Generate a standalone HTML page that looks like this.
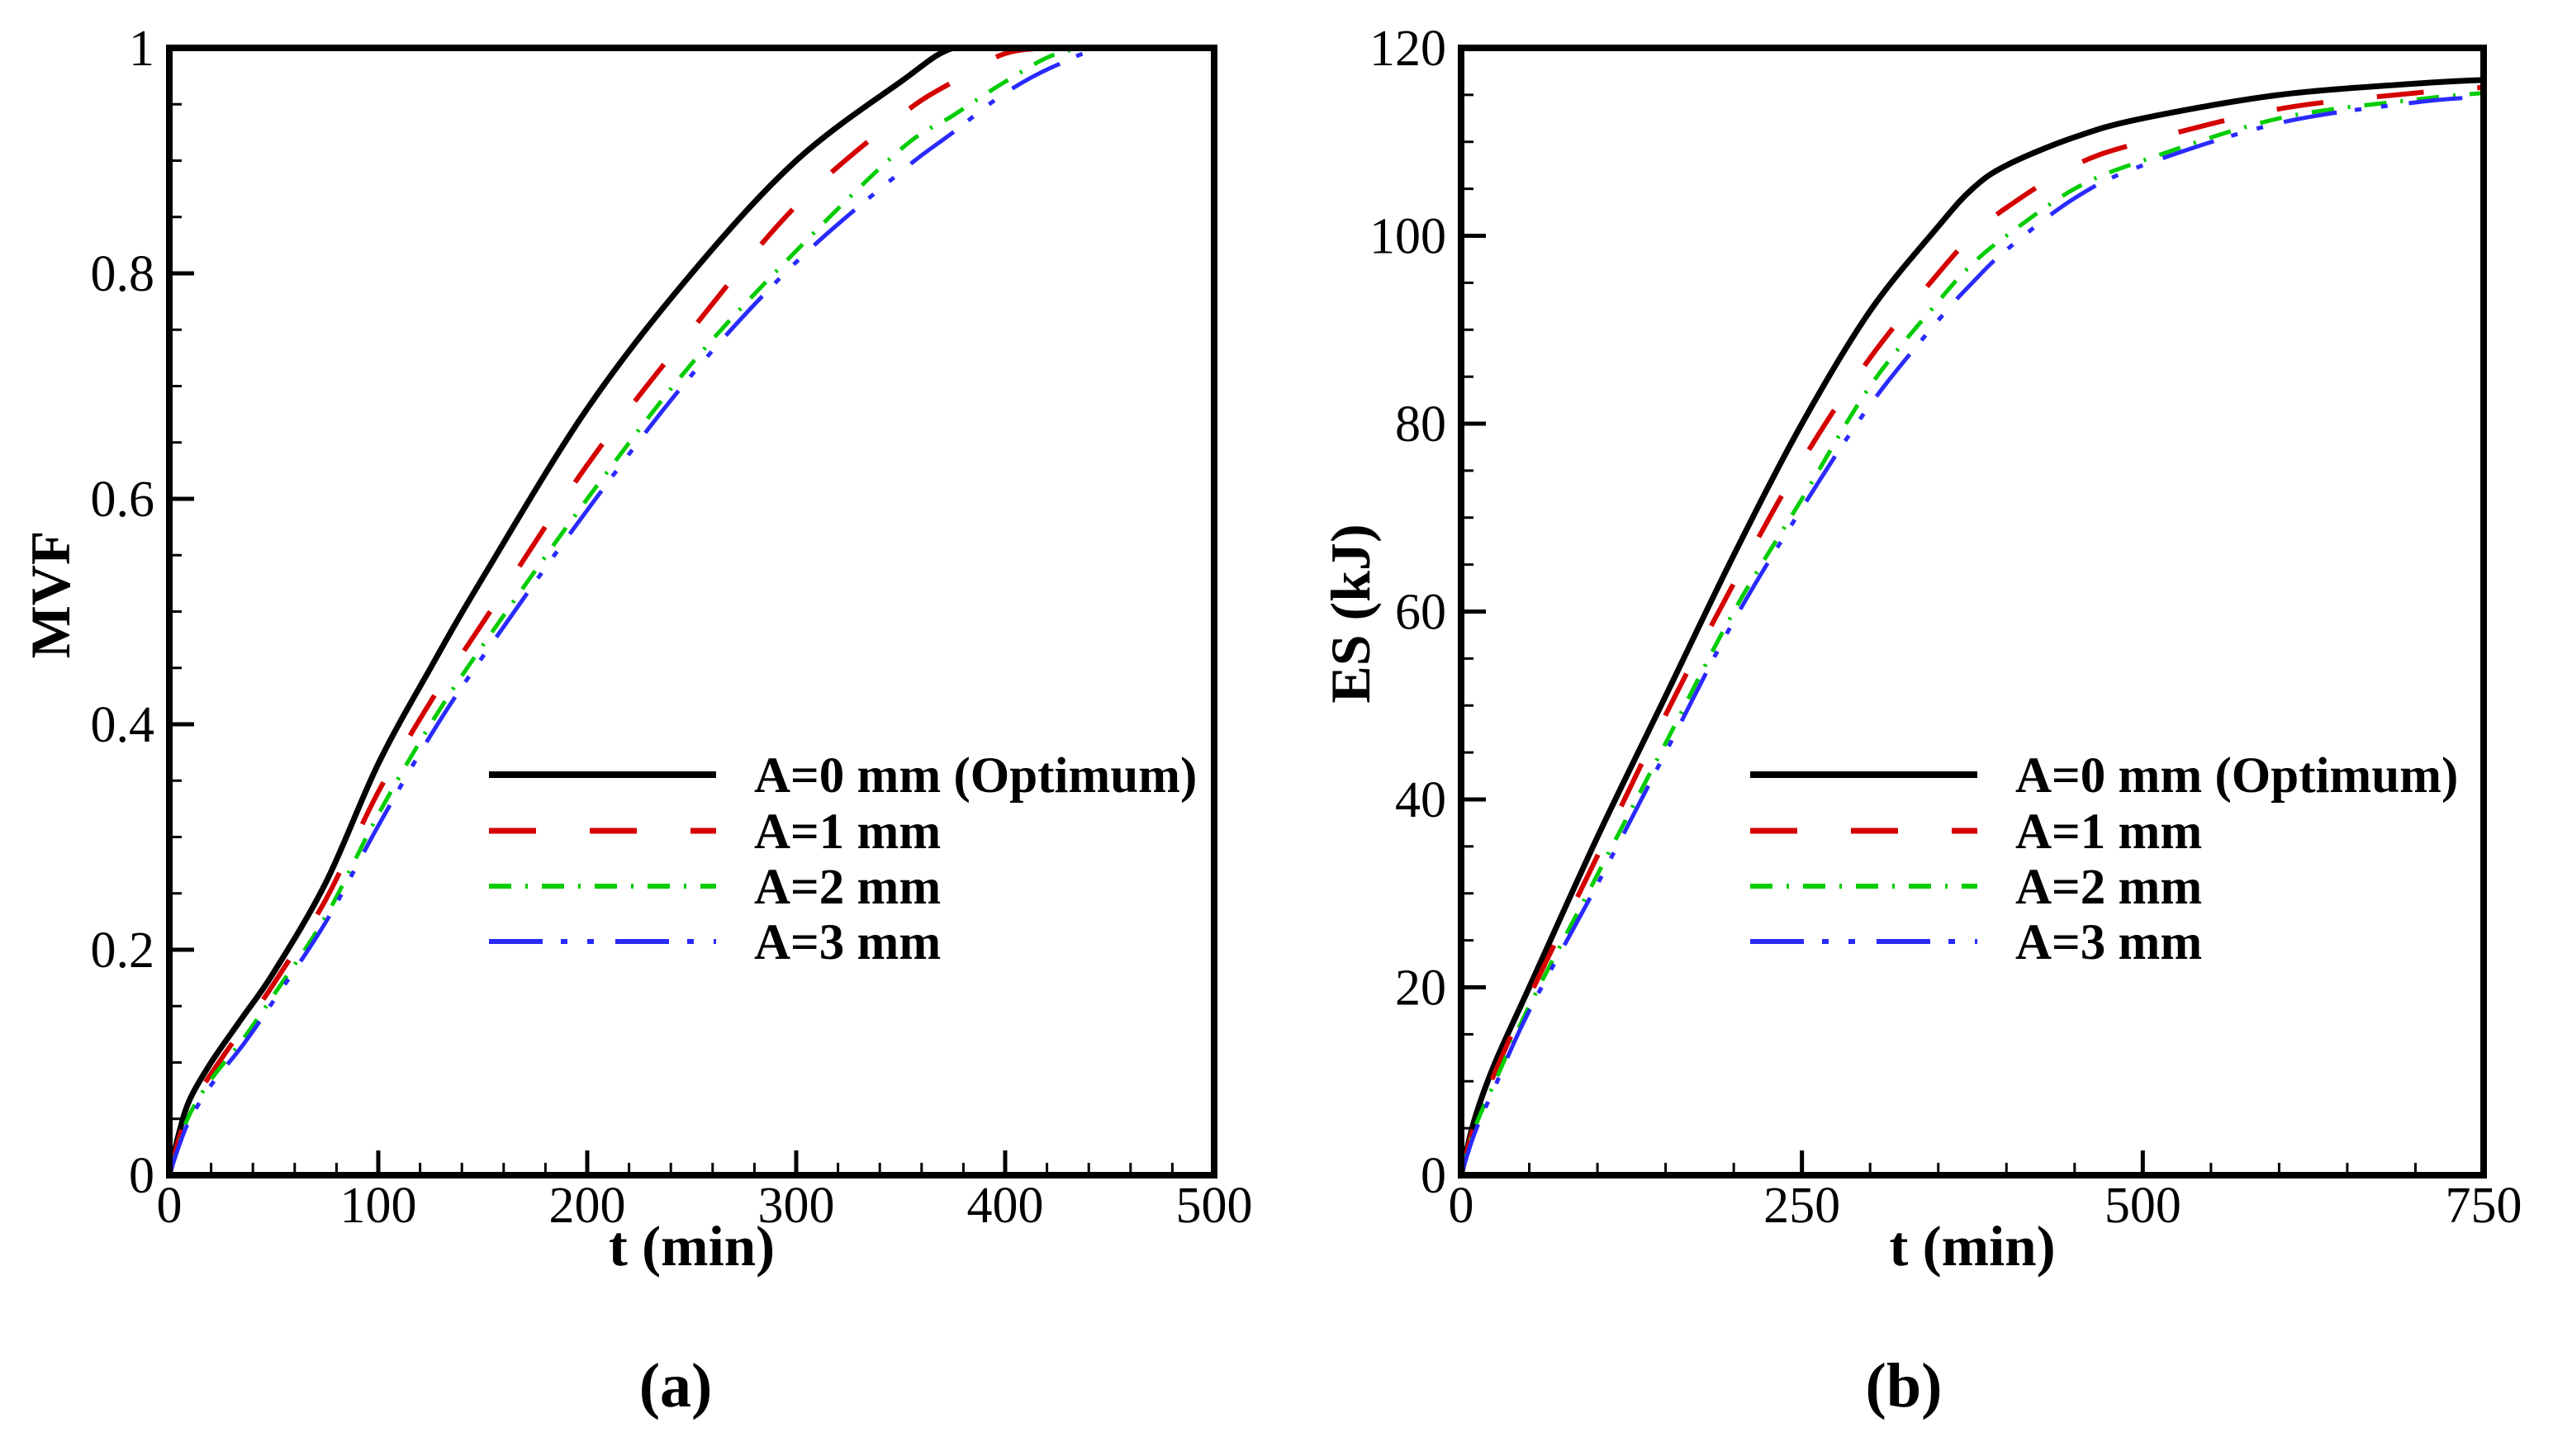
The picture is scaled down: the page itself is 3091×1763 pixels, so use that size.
<!DOCTYPE html>
<html><head><meta charset="utf-8"><style>
html,body{margin:0;padding:0;background:#fff}
svg text{font-family:"Liberation Serif",serif}
</style></head><body>
<svg id="fig" width="3091" height="1758" viewBox="0 0 3091 1758" xmlns="http://www.w3.org/2000/svg"></svg>
<script>
// ---- Data panel (a) MVF ----
const tA = [0,5,10,20,35,50,75,100,125,150,200,250,300,350,375,400,425,450,500];
const mvf0 = [0,0.04,0.068,0.10,0.14,0.18,0.26,0.365,0.45,0.53,0.68,0.80,0.90,0.97,1.0,1.0,1.0,1.0,1.0];
const mvf1 = [0,0.035,0.06,0.09,0.13,0.17,0.245,0.34,0.42,0.49,0.63,0.75,0.86,0.94,0.97,0.995,1.0,1.0,1.0];
const mvf2 = [0,0.03,0.055,0.085,0.12,0.16,0.23,0.32,0.40,0.47,0.60,0.72,0.82,0.91,0.94,0.97,0.995,1.0,1.0];
const mvf3 = [0,0.028,0.05,0.08,0.115,0.155,0.225,0.31,0.39,0.46,0.59,0.71,0.81,0.89,0.925,0.96,0.985,1.0,1.0];
const xTicksA = [0,100,200,300,400,500];
const yTicksA = [0,0.2,0.4,0.6,0.8,1];
const yTickLabelsA = ["0","0.2","0.4","0.6","0.8","1"];
// ---- Data panel (b) ES ----
const tB = [0,10,25,50,100,150,200,250,300,350,375,400,450,500,600,700,750];
const es0 = [0,6,12,20,36,51,66,80,92,101,105,107.5,110.5,112.5,115,116.2,116.6];
const es1 = [0,5.5,11,19,34,49,63,76,87,96,100,103,107.5,110,113.5,115.2,115.8];
const es2 = [0,5,10,18,32,46,60,72,84,93,97,100,105,108,112.5,114.5,115.2];
const es3 = [0,4.5,9.5,17.5,31,45,59,71,82,91,95,98.5,104,107.5,112,114.2,114.8];
const xTicksB = [0,250,500,750];
const yTicksB = [0,20,40,60,80,100,120];
const legendLabels = ["A=0 mm (Optimum)","A=1 mm","A=2 mm","A=3 mm"];

const NS="http://www.w3.org/2000/svg";
const svg=document.getElementById('fig');
function mk(tag,attrs,parent){const e=document.createElementNS(NS,tag);for(const k in attrs)e.setAttribute(k,attrs[k]);(parent||svg).appendChild(e);return e;}
const styles=[
 {c:"#000",w:7,d:""},
 {c:"#d40000",w:6,d:"57 65"},
 {c:"#00cc00",w:5,d:"27 17 3 17"},
 {c:"#2a2aff",w:5,d:"65 22 8 24 8 26"}
];
function smoothPath(pts){
  let d="M"+pts[0][0].toFixed(1)+","+pts[0][1].toFixed(1);
  for(let i=0;i<pts.length-1;i++){
    const p0=pts[Math.max(0,i-1)],p1=pts[i],p2=pts[i+1],p3=pts[Math.min(pts.length-1,i+2)];
    const c1=[p1[0]+(p2[0]-p0[0])/6,p1[1]+(p2[1]-p0[1])/6];
    const c2=[p2[0]-(p3[0]-p1[0])/6,p2[1]-(p3[1]-p1[1])/6];
    d+=" C"+c1[0].toFixed(1)+","+c1[1].toFixed(1)+" "+c2[0].toFixed(1)+","+c2[1].toFixed(1)+" "+p2[0].toFixed(1)+","+p2[1].toFixed(1);
  }
  return d;
}
function panel(o){
  const g=mk('g',{});
  
  
  const L=o.L,R=o.R,T=o.T,B=o.B;
  const sx=v=>L+(v-o.xmin)/(o.xmax-o.xmin)*(R-L);
  const sy=v=>B-(v-o.ymin)/(o.ymax-o.ymin)*(B-T);
  const clip=mk('clipPath',{id:'clip'+o.name},g);
  mk('rect',{x:L,y:T-4,width:R-L,height:B-T+4},clip);
  for(let v=o.xmin;v<=o.xmax+1e-9;v+=o.xminor){
    const x=sx(v);const major=o.xt.some(t=>Math.abs(t-v)<1e-9);
    const len=major?30:15;
    const tk=mk('line',{x1:x,y1:B,x2:x,y2:B-len,stroke:"#000","stroke-width":major?5:3},g);
    
    
  }
  for(let v=o.ymin;v<=o.ymax+1e-9;v+=o.yminor){
    const y=sy(v);const major=o.yt.some(t=>Math.abs(t-v)<1e-9);
    const len=major?30:15;
    const tk=mk('line',{x1:L,y1:y,x2:L+len,y2:y,stroke:"#000","stroke-width":major?5:3},g);
    
    
  }
  o.series.forEach((ys,i)=>{
    const pts=o.xs.map((t,j)=>[sx(t),sy(ys[j])]);
    const p=mk('path',{d:smoothPath(pts),fill:"none",stroke:styles[i].c,"stroke-width":styles[i].w,"stroke-dasharray":styles[i].d,"clip-path":"url(#clip"+o.name+")"},g);
    
    
  });
  const fr=mk('rect',{x:L,y:T,width:R-L,height:B-T,fill:"none",stroke:"#000","stroke-width":8},g);
  
  
  o.xt.forEach(v=>{
    const t=mk('text',{x:sx(v),y:B+57,"font-size":62,"text-anchor":"middle"},g);t.textContent=String(v);
    
    
  });
  o.yt.forEach((v,i)=>{
    const t=mk('text',{x:L-18,y:sy(v)+21,"font-size":62,"text-anchor":"end"},g);t.textContent=o.ylabels[i];
    
    
  });
  const xt=mk('text',{x:(L+R)/2,y:1532,"font-size":69,"font-weight":"bold","text-anchor":"middle"},g);xt.textContent="t (min)";
  
  
  const yt=mk('text',{x:0,y:0,"font-size":68,"font-weight":"bold","text-anchor":"middle",transform:"translate("+o.ytx+","+o.yty+") rotate(-90)"},g);yt.textContent=o.ytitle;
  
  
  const pl=mk('text',{x:o.plx,y:1703,"font-size":76,"font-weight":"bold","text-anchor":"middle"},g);pl.textContent=o.plabel;
  
  
  const rows=[938,1006,1073,1140];
  legendLabels.forEach((lab,i)=>{
    const ln=mk('line',{x1:o.lgx,y1:rows[i],x2:o.lgx+275,y2:rows[i],stroke:styles[i].c,"stroke-width":styles[i].w+1,"stroke-dasharray":styles[i].d},g);
    
    
    const tx=mk('text',{x:o.lgx+321,y:rows[i]+21,"font-size":61,"font-weight":"bold"},g);tx.textContent=lab;
    
    
  });
}
panel({name:"panel-a",L:205,R:1470,T:58,B:1423,xmin:0,xmax:500,ymin:0,ymax:1,xminor:20,yminor:0.05,
  xt:xTicksA,yt:yTicksA,ylabels:yTickLabelsA,xs:tA,series:[mvf0,mvf1,mvf2,mvf3],
  ytitle:"MVF",ytx:84,yty:720,plabel:"(a)",plx:818,lgx:592});
panel({name:"panel-b",L:1769,R:3007,T:58,B:1423,xmin:0,xmax:750,ymin:0,ymax:120,xminor:50,yminor:5,
  xt:xTicksB,yt:yTicksB,ylabels:yTicksB.map(String),xs:tB,series:[es0,es1,es2,es3],
  ytitle:"ES (kJ)",ytx:1658,yty:743,plabel:"(b)",plx:2305,lgx:2119});
</script>
</body></html>
